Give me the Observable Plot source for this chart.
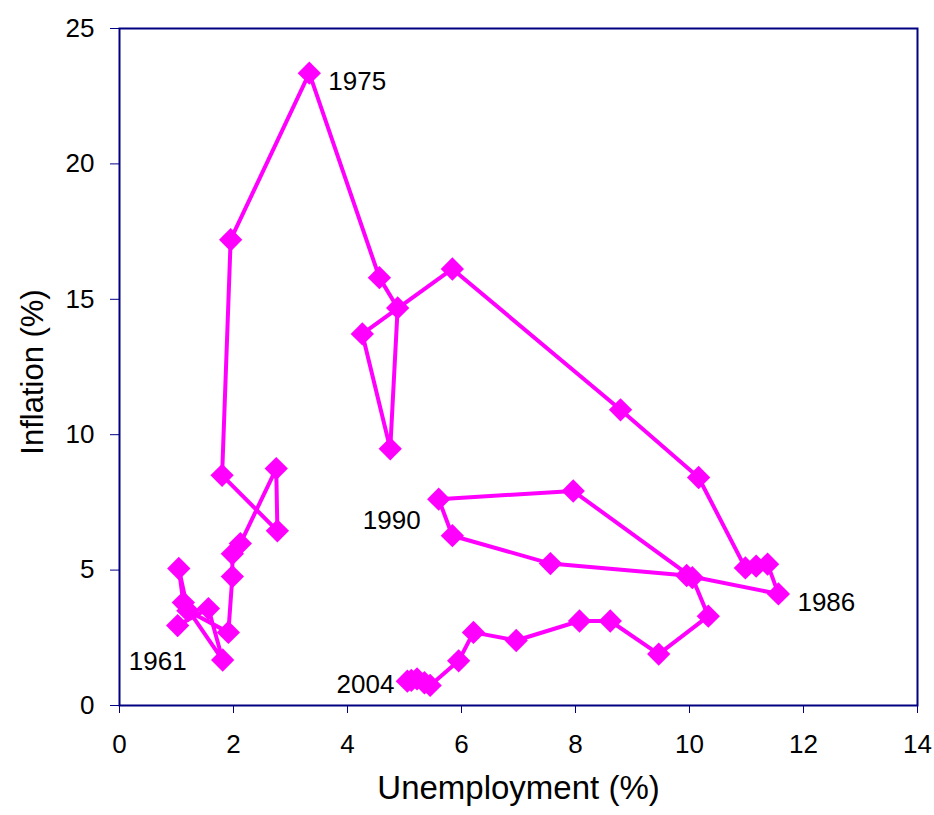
<!DOCTYPE html>
<html>
<head>
<meta charset="utf-8">
<script src="https://cdn.jsdelivr.net/npm/d3@7"></script>
<script src="https://cdn.jsdelivr.net/npm/@observablehq/plot@0.6"></script>
<style>
  html, body { margin: 0; padding: 0; background: #fff; }
  #chart svg { display: block; font-family: "Liberation Sans", Arial, sans-serif; }
</style>
</head>
<body>
<div id="chart"></div>
<script>
const years = [1961,1962,1963,1964,1965,1966,1967,1968,1969,1970,1971,1972,1973,1974,1975,1976,1977,1978,1979,1980,1981,1982,1983,1984,1985,1986,1987,1988,1989,1990,1991,1992,1993,1994,1995,1996,1997,1998,1999,2000,2001,2002,2003,2004];
const unemployment = [1.02,1.56,1.81,1.12,1.04,1.2,1.91,1.98,1.98,2.12,2.75,2.77,1.8,1.95,3.33,4.56,4.88,4.75,4.26,5.84,8.79,10.16,10.98,11.17,11.37,11.56,9.95,7.56,5.84,5.6,7.96,10.05,10.33,9.46,8.61,8.07,6.96,6.21,5.95,5.45,5.35,5.22,5.12,5.05];
const inflation = [2.95,3.58,1.68,3.8,5.06,3.5,2.7,4.76,5.6,5.98,8.75,6.45,8.5,17.2,23.35,15.8,14.68,9.48,13.72,16.12,10.92,8.42,5.08,5.15,5.22,4.12,4.8,5.24,6.27,7.62,7.92,4.72,3.3,1.9,3.12,3.12,2.4,2.7,1.65,0.74,0.84,0.98,0.93,0.9];
const xTicks = [0,2,4,6,8,10,12,14];
const yTicks = [0,5,10,15,20,25];
const xLabel = "Unemployment (%)";
const yLabel = "Inflation (%)";

const data = years.map((y, i) => ({year: y, u: unemployment[i], inf: inflation[i]}));
const pick = yr => data.filter(d => d.year === yr);

const magenta = "#FF00FF";
const navy = "#000080";
const labelFont = 26;

const chart = Plot.plot({
  width: 934,
  height: 815,
  marginLeft: 119,
  marginRight: 17,
  marginTop: 28,
  marginBottom: 110,
  style: {fontFamily: "'Liberation Sans', Arial, sans-serif", background: "#fff"},
  x: {domain: [0, 14]},
  y: {domain: [0, 25]},
  marks: [
    Plot.axisX({ticks: xTicks, tickSize: 8, tickPadding: 21, fontSize: 26, stroke: navy, label: null, tickFormat: d => String(d)}),
    Plot.axisY({ticks: yTicks, tickSize: 9, tickPadding: 16, fontSize: 26, stroke: navy, label: null, tickFormat: d => String(d)}),
    Plot.line(data, {x: "u", y: "inf", stroke: magenta, strokeWidth: 4, curve: "linear"}),
    Plot.dot(data, {x: "u", y: "inf", symbol: "diamond2", r: 10.5, fill: magenta, stroke: null}),
    Plot.text(pick(1975), {x: "u", y: "inf", text: d => String(d.year), textAnchor: "start", dx: 19, dy: 8, fontSize: labelFont, fill: "black"}),
    Plot.text(pick(1986), {x: "u", y: "inf", text: d => String(d.year), textAnchor: "start", dx: 19, dy: 9, fontSize: labelFont, fill: "black"}),
    Plot.text(pick(1961), {x: "u", y: "inf", text: d => String(d.year), textAnchor: "end", dx: 9, dy: 36, fontSize: labelFont, fill: "black"}),
    Plot.text(pick(1990), {x: "u", y: "inf", text: d => String(d.year), textAnchor: "end", dx: -18, dy: 22, fontSize: labelFont, fill: "black"}),
    Plot.text(pick(2004), {x: "u", y: "inf", text: d => String(d.year), textAnchor: "end", dx: -13, dy: 4, fontSize: labelFont, fill: "black"}),
    Plot.text([xLabel], {frameAnchor: "bottom", textAnchor: "middle", dy: 93, text: d => d, fontSize: 33, fill: "black"}),
    Plot.text([yLabel], {frameAnchor: "left", textAnchor: "middle", rotate: -90, dx: -86, dy: 5, text: d => d, fontSize: 31, fill: "black"}),
    Plot.frame({stroke: navy, strokeWidth: 2})
  ]
});
document.getElementById("chart").appendChild(chart);
</script>
</body>
</html>
